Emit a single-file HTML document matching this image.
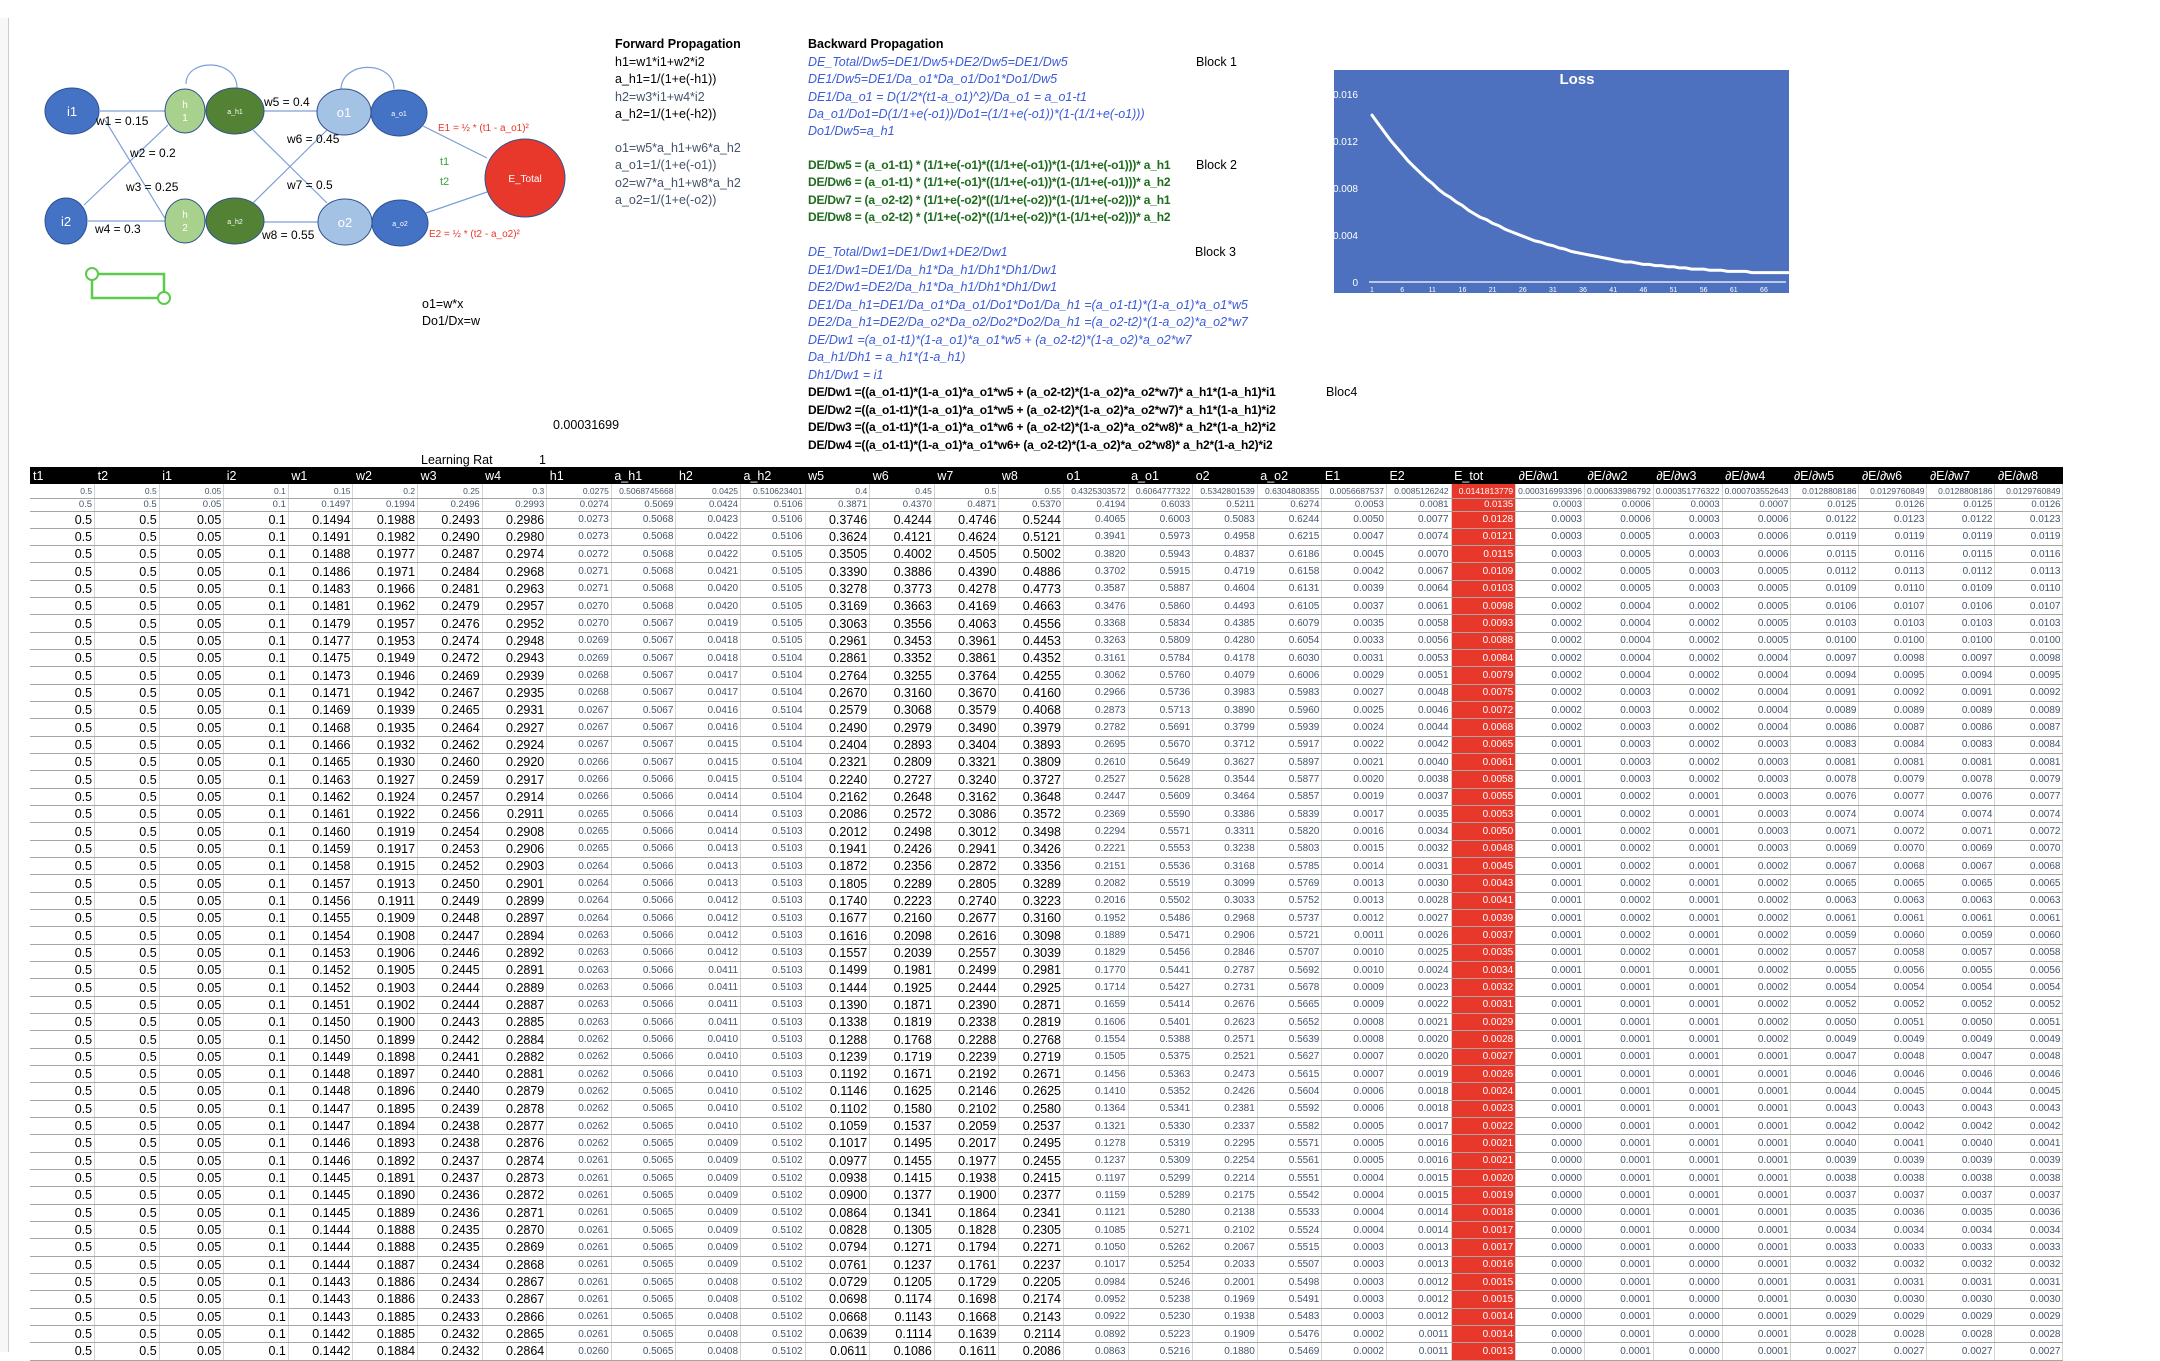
<!DOCTYPE html>
<html><head><meta charset="utf-8">
<style>
body{margin:0;background:#fff;width:2160px;height:1352px;overflow:hidden;position:relative;font-family:"Liberation Sans",sans-serif}
.t{position:absolute;white-space:nowrap;font-size:12.5px;line-height:14px}
.fw{color:#000}
.bl{color:#3b5bdb;font-style:italic}
.gr{color:#1e6b1e;font-weight:bold;font-size:12px;letter-spacing:-0.2px}
.bk{color:#000;font-weight:bold}
.bk2{color:#000;font-weight:bold;font-size:12px;letter-spacing:-0.2px}
#tbl{position:absolute;left:30px;top:467px;border-collapse:collapse;table-layout:fixed}
#tbl td{padding:0 2px;overflow:hidden;white-space:nowrap;text-align:right;border-right:1px solid #d4d4d4;border-bottom:1.5px solid #a6a6a6;box-sizing:border-box}
#tbl th{background:#000;color:#fff;font-weight:normal;text-align:left;padding:0 3px;font-size:12.5px;height:17px;white-space:nowrap;overflow:hidden}
.r0 td{font-size:8.5px;color:#44546a;height:14px}
.r1 td{font-size:9.5px;color:#44546a;height:13px}
.rn td{height:17.33px;font-size:10px;color:#44546a}
.rn td.big{font-size:12.5px;color:#000}
#tbl td.red{background:#e8382b;color:#fff}
</style></head><body>
<div style="position:absolute;left:0;top:18px;width:8px;height:1334px;border-right:1px solid #ccc;background:#f7f7f7"></div>

<svg width="620" height="470" style="position:absolute;left:0;top:0" font-family="Liberation Sans, sans-serif">
<g stroke="#7f9fd8" stroke-width="1.2" fill="none">
<line x1="100" y1="111" x2="165" y2="111"/><line x1="88" y1="221" x2="165" y2="221"/>
<line x1="105" y1="120" x2="166" y2="220"/><line x1="84" y1="205" x2="168" y2="125"/>
<line x1="264" y1="111" x2="318" y2="111"/><line x1="264" y1="222" x2="318" y2="222"/>
<line x1="253" y1="130" x2="327" y2="203"/><line x1="253" y1="203" x2="327" y2="130"/>
<line x1="423" y1="126" x2="487" y2="158"/><line x1="426" y1="213" x2="487" y2="192"/>
<path d="M186 84 C186 58 237 58 237 88"/><path d="M341 90 C341 60 394 60 394 89"/>
</g>
<g stroke="#2f528f" stroke-width="1">
<ellipse cx="72" cy="111" rx="27" ry="23" fill="#4472c4"/>
<ellipse cx="66" cy="221" rx="21" ry="23" fill="#4472c4"/>
<ellipse cx="185" cy="111" rx="20" ry="22" fill="#a9d18e"/>
<ellipse cx="235" cy="111" rx="29" ry="23" fill="#548235"/>
<ellipse cx="344" cy="112" rx="27" ry="23" fill="#a4c2e4"/>
<ellipse cx="399" cy="113" rx="28" ry="23" fill="#4472c4"/>
<ellipse cx="185" cy="221" rx="20" ry="22" fill="#a9d18e"/>
<ellipse cx="235" cy="221" rx="29" ry="23" fill="#548235"/>
<ellipse cx="345" cy="222" rx="27" ry="23" fill="#a4c2e4"/>
<ellipse cx="400" cy="223" rx="28" ry="23" fill="#4472c4"/>
<ellipse cx="525" cy="178" rx="40" ry="39" fill="#e8382b"/>
</g>
<g fill="#fff" text-anchor="middle" font-size="13">
<text x="72" y="116">i1</text><text x="66" y="226">i2</text>
<text x="185" y="108" font-size="10">h</text><text x="185" y="121" font-size="10">1</text>
<text x="185" y="218" font-size="10">h</text><text x="185" y="231" font-size="10">2</text>
<text x="235" y="114" font-size="7">a_h1</text><text x="235" y="224" font-size="7">a_h2</text>
<text x="344" y="117">o1</text><text x="345" y="227">o2</text>
<text x="399" y="116" font-size="7">a_o1</text><text x="400" y="226" font-size="7">a_o2</text>
<text x="525" y="182" font-size="10">E_Total</text>
</g>
<g font-size="12" fill="#000">
<text x="96" y="125">w1 = 0.15</text><text x="130" y="157">w2 = 0.2</text>
<text x="126" y="191">w3 = 0.25</text><text x="95" y="233">w4 = 0.3</text>
<text x="264" y="106">w5 = 0.4</text><text x="287" y="143">w6 = 0.45</text>
<text x="287" y="189">w7 = 0.5</text><text x="262" y="239">w8 = 0.55</text>
</g>
<g font-size="10" fill="#e8382b"><text x="438" y="131">E1 = ½ * (t1 - a_o1)²</text><text x="429" y="237">E2 = ½ * (t2 - a_o2)²</text></g>
<g font-size="11" fill="#3aa43a"><text x="440" y="165">t1</text><text x="440" y="185">t2</text></g>
<rect x="92" y="274" width="72" height="24" fill="none" stroke="#5acb4a" stroke-width="2.5"/>
<circle cx="92" cy="274" r="6" fill="#fff" stroke="#5acb4a" stroke-width="2"/>
<circle cx="164" cy="298" r="6" fill="#fff" stroke="#5acb4a" stroke-width="2"/>
</svg>

<div class="t fw" style="left:422px;top:297px">o1=w*x</div>
<div class="t fw" style="left:422px;top:314px">Do1/Dx=w</div>
<div class="t fw" style="left:553px;top:418px">0.00031699</div>
<div class="t fw" style="left:421px;top:453px">Learning Rat</div>
<div class="t fw" style="left:539px;top:453px">1</div>

<div>
<div class="t bk" style="left:615px;top:37px">Forward Propagation</div>
<div class="t fw" style="left:615px;top:55px">h1=w1*i1+w2*i2</div>
<div class="t fw" style="left:615px;top:72px">a_h1=1/(1+e(-h1))</div>
<div class="t fw" style="left:615px;top:90px;color:#44546a">h2=w3*i1+w4*i2</div>
<div class="t fw" style="left:615px;top:107px">a_h2=1/(1+e(-h2))</div>
<div class="t fw" style="left:615px;top:141px;color:#44546a">o1=w5*a_h1+w6*a_h2</div>
<div class="t fw" style="left:615px;top:158px;color:#44546a">a_o1=1/(1+e(-o1))</div>
<div class="t fw" style="left:615px;top:176px;color:#44546a">o2=w7*a_h1+w8*a_h2</div>
<div class="t fw" style="left:615px;top:193px;color:#44546a">a_o2=1/(1+e(-o2))</div>
</div>

<div>
<div class="t bk" style="left:808px;top:37px">Backward Propagation</div>
<div class="t bl" style="left:808px;top:55px">DE_Total/Dw5=DE1/Dw5+DE2/Dw5=DE1/Dw5</div>
<div class="t bl" style="left:808px;top:72px">DE1/Dw5=DE1/Da_o1*Da_o1/Do1*Do1/Dw5</div>
<div class="t bl" style="left:808px;top:90px">DE1/Da_o1 = D(1/2*(t1-a_o1)^2)/Da_o1 = a_o1-t1</div>
<div class="t bl" style="left:808px;top:107px">Da_o1/Do1=D(1/1+e(-o1))/Do1=(1/1+e(-o1))*(1-(1/1+e(-o1)))</div>
<div class="t bl" style="left:808px;top:124px">Do1/Dw5=a_h1</div>
<div class="t fw" style="left:1196px;top:55px">Block 1</div>
<div class="t gr" style="left:808px;top:158px">DE/Dw5 = (a_o1-t1) * (1/1+e(-o1)*((1/1+e(-o1))*(1-(1/1+e(-o1)))* a_h1</div>
<div class="t gr" style="left:808px;top:175px">DE/Dw6 = (a_o1-t1) * (1/1+e(-o1)*((1/1+e(-o1))*(1-(1/1+e(-o1)))* a_h2</div>
<div class="t gr" style="left:808px;top:193px">DE/Dw7 = (a_o2-t2) * (1/1+e(-o2)*((1/1+e(-o2))*(1-(1/1+e(-o2)))* a_h1</div>
<div class="t gr" style="left:808px;top:210px">DE/Dw8 = (a_o2-t2) * (1/1+e(-o2)*((1/1+e(-o2))*(1-(1/1+e(-o2)))* a_h2</div>
<div class="t fw" style="left:1196px;top:158px">Block 2</div>
<div class="t bl" style="left:808px;top:245px">DE_Total/Dw1=DE1/Dw1+DE2/Dw1</div>
<div class="t bl" style="left:808px;top:263px">DE1/Dw1=DE1/Da_h1*Da_h1/Dh1*Dh1/Dw1</div>
<div class="t bl" style="left:808px;top:280px">DE2/Dw1=DE2/Da_h1*Da_h1/Dh1*Dh1/Dw1</div>
<div class="t bl" style="left:808px;top:298px">DE1/Da_h1=DE1/Da_o1*Da_o1/Do1*Do1/Da_h1 =(a_o1-t1)*(1-a_o1)*a_o1*w5</div>
<div class="t bl" style="left:808px;top:315px">DE2/Da_h1=DE2/Da_o2*Da_o2/Do2*Do2/Da_h1 =(a_o2-t2)*(1-a_o2)*a_o2*w7</div>
<div class="t bl" style="left:808px;top:333px">DE/Dw1 =(a_o1-t1)*(1-a_o1)*a_o1*w5 + (a_o2-t2)*(1-a_o2)*a_o2*w7</div>
<div class="t bl" style="left:808px;top:350px">Da_h1/Dh1 = a_h1*(1-a_h1)</div>
<div class="t bl" style="left:808px;top:368px">Dh1/Dw1 = i1</div>
<div class="t fw" style="left:1195px;top:245px">Block 3</div>
<div class="t bk2" style="left:808px;top:385px">DE/Dw1 =((a_o1-t1)*(1-a_o1)*a_o1*w5 + (a_o2-t2)*(1-a_o2)*a_o2*w7)* a_h1*(1-a_h1)*i1</div>
<div class="t bk2" style="left:808px;top:403px">DE/Dw2 =((a_o1-t1)*(1-a_o1)*a_o1*w5 + (a_o2-t2)*(1-a_o2)*a_o2*w7)* a_h1*(1-a_h1)*i2</div>
<div class="t bk2" style="left:808px;top:420px">DE/Dw3 =((a_o1-t1)*(1-a_o1)*a_o1*w6 + (a_o2-t2)*(1-a_o2)*a_o2*w8)* a_h2*(1-a_h2)*i2</div>
<div class="t bk2" style="left:808px;top:438px">DE/Dw4 =((a_o1-t1)*(1-a_o1)*a_o1*w6+ (a_o2-t2)*(1-a_o2)*a_o2*w8)* a_h2*(1-a_h2)*i2</div>
<div class="t fw" style="left:1326px;top:385px">Bloc4</div>
</div>

<svg id="chart" width="2160" height="300" style="position:absolute;left:0;top:0" font-family="Liberation Sans, sans-serif"></svg>

<table id="tbl"></table>

<script>
const lossIter = [];
const lossValues = [0.0142,0.0135,0.0128,0.0121,0.0115,0.0109,0.0103,0.0098,0.0093,0.0088,0.0084,0.0079,0.0075,0.0072,0.0068,0.0065,0.0061,0.0058,0.0055,0.0053,0.0050,0.0048,0.0045,0.0043,0.0041,0.0039,0.0037,0.0035,0.0034,0.0032,0.0031,0.0029,0.0028,0.0026,0.0025,0.0024,0.0023,0.0022,0.0021,0.0020,0.0019,0.0018,0.0017,0.0017,0.0016,0.0015,0.0015,0.0014,0.0014,0.0013,0.0013,0.0012,0.0012,0.0011,0.0011,0.0011,0.0010,0.0010,0.0010,0.0009,0.0009,0.0009,0.0009,0.0008,0.0008,0.0008,0.0008,0.0008,0.0008,0.0008];
const yTicks = [0,0.004,0.008,0.012,0.016];
const yTickLabels = ["0","0.004","0.008","0.012","0.016"];
const xTickLabels = ["1","6","11","16","21","26","31","36","41","46","51","56","61","66"];
for (let i=0;i<lossValues.length;i++) lossIter.push(i+1);

const NS="http://www.w3.org/2000/svg";
const svg=document.getElementById('chart');
function mk(tag,attrs,parent){const e=document.createElementNS(NS,tag);for(const k in attrs)e.setAttribute(k,attrs[k]);(parent||svg).appendChild(e);return e;}
const X0=1372, DX=6.03, Y0=282, YH=188, YMAX=0.016;
function xs(i){return X0+(i-1)*DX;}
function ys(v){return Y0-v/YMAX*YH;}
const bg=mk('rect',{x:1334,y:70,width:455,height:223,fill:'#4d71bf'});


const title=mk('text',{x:1577,y:84,fill:'#fff','font-size':15,'font-weight':'bold','text-anchor':'middle'});
title.textContent='Loss';


yTicks.forEach((v,k)=>{
  const t=mk('text',{x:1358,y:ys(v)+4,fill:'#fff','font-size':10,'text-anchor':'end'});
  t.textContent=yTickLabels[k];
  
  
});
const ax=mk('line',{x1:1369,y1:Y0,x2:1786,y2:Y0,stroke:'#fff','stroke-width':1.2});


xTickLabels.forEach(l=>{
  const t=mk('text',{x:xs(+l),y:Y0+10,fill:'#fff','font-size':7,'text-anchor':'middle'});
  t.textContent=l;
  
  
});
let d='';
lossValues.forEach((v,i)=>{d+=(i?'L':'M')+xs(lossIter[i]).toFixed(1)+' '+ys(v).toFixed(1);});
const ln=mk('path',{d:d,fill:'none',stroke:'#fff','stroke-width':3,'stroke-linecap':'round','stroke-linejoin':'round'});



// table
const headers=["t1","t2","i1","i2","w1","w2","w3","w4","h1","a_h1","h2","a_h2","w5","w6","w7","w8","o1","a_o1","o2","a_o2","E1","E2","E_tot","∂E/∂w1","∂E/∂w2","∂E/∂w3","∂E/∂w4","∂E/∂w5","∂E/∂w6","∂E/∂w7","∂E/∂w8"];
const initWeights=[0.15,0.2,0.25,0.3,0.4,0.45,0.5,0.55];
const t1=0.5,t2=0.5,i1=0.05,i2=0.1,lr=1;
const tbl=document.getElementById('tbl');
const cg=document.createElement('colgroup');
headers.forEach((h,k)=>{const c=document.createElement('col');c.style.width=(k<23?64.6:68)+'px';cg.appendChild(c);});
tbl.appendChild(cg);
const hr=document.createElement('tr');


headers.forEach(h=>{const th=document.createElement('th');th.textContent=h;


hr.appendChild(th);});
tbl.appendChild(hr);
const sig=x=>1/(1+Math.exp(-x));
let w=initWeights.slice();
function full(v){let s=v.toFixed(Math.abs(v)<0.001?12:10);s=s.replace(/0+$/,'').replace(/\.$/,'');return s;}
const bigCols=new Set([0,1,2,3,4,5,6,7,12,13,14,15]);
for(let r=0;r<51;r++){
  const h1=w[0]*i1+w[1]*i2, ah1=sig(h1), h2=w[2]*i1+w[3]*i2, ah2=sig(h2);
  const o1=w[4]*ah1+w[5]*ah2, ao1=sig(o1), o2=w[6]*ah1+w[7]*ah2, ao2=sig(o2);
  const E1=0.5*(t1-ao1)**2, E2=0.5*(t2-ao2)**2, Et=E1+E2;
  const d1=(ao1-t1)*ao1*(1-ao1), d2=(ao2-t2)*ao2*(1-ao2);
  const gh1=(d1*w[4]+d2*w[6])*ah1*(1-ah1), gh2=(d1*w[5]+d2*w[7])*ah2*(1-ah2);
  const g=[gh1*i1,gh1*i2,gh2*i1,gh2*i2,d1*ah1,d1*ah2,d1*ah1,d1*ah2];
  const row=[t1,t2,i1,i2,w[0],w[1],w[2],w[3],h1,ah1,h2,ah2,w[4],w[5],w[6],w[7],o1,ao1,o2,ao2,E1,E2,Et,...g];
  const tr=document.createElement('tr');
  tr.className=r===0?'r0':(r===1?'r1':'rn');
  
  
  row.forEach((v,k)=>{
    const td=document.createElement('td');
    if(r===0) td.textContent=full(v);
    else td.textContent=(k<4)?String(v):v.toFixed(4);
    if(r>=2&&bigCols.has(k)) td.className='big';
    if(k===22) td.classList.add('red');
    
    
    tr.appendChild(td);
  });
  tbl.appendChild(tr);
  w=w.map((x,k)=>x-lr*g[k]);
}
</script>
</body></html>
